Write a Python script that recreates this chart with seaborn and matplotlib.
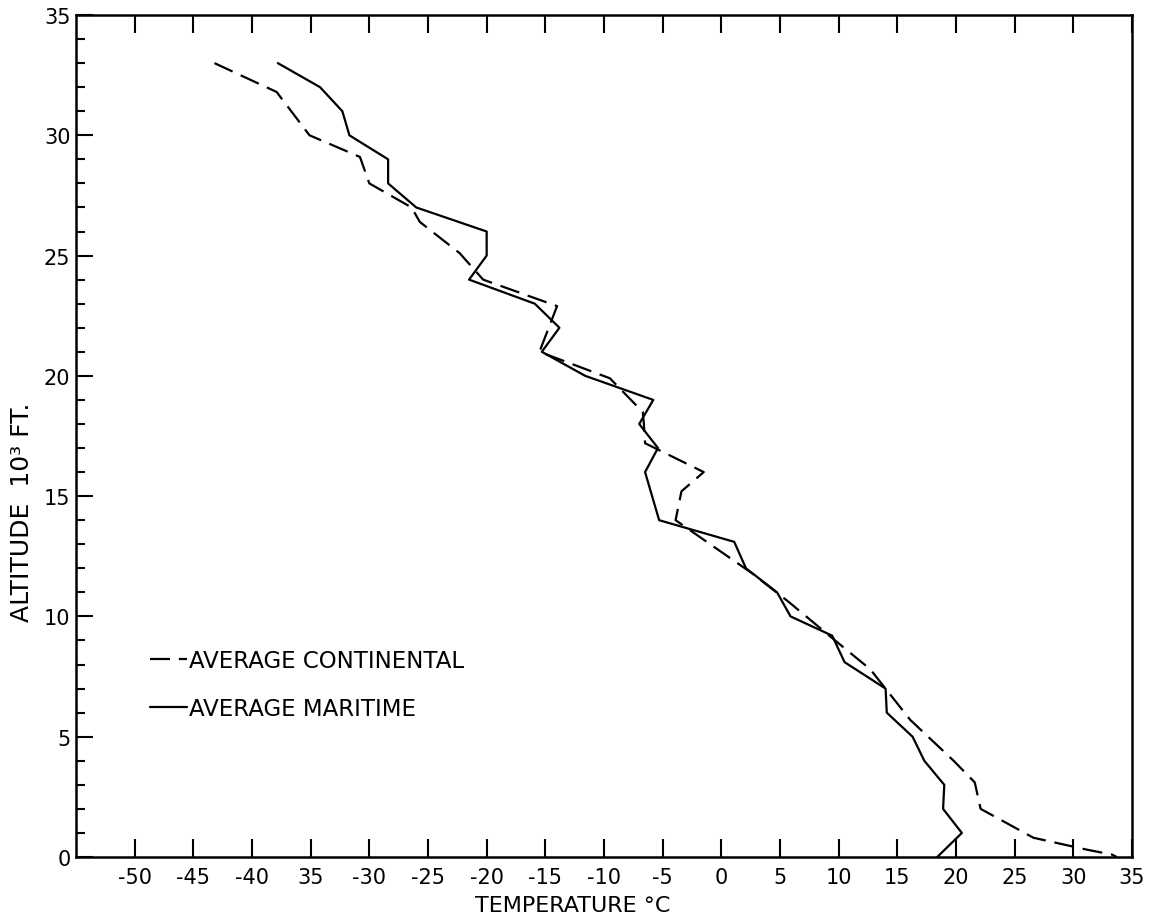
import matplotlib
matplotlib.use("Agg")
import matplotlib.pyplot as plt
import numpy as np
import pandas as pd
import seaborn as sns

# Average continental profile: temperature (deg C) vs altitude (thousand ft)
cont_temp = [-43.2, -37.9, -35.1, -30.8, -30.0, -26.4, -25.7, -22.3, -20.3, -14.0,
             -15.5, -9.5, -6.7, -6.6, -6.5, -1.5, -3.4, -3.9, 2.6, 5.75,
             9.45, 12.7, 16.1, 19.8, 21.6, 22.1, 26.6, 31.2, 33.3, 33.7]
cont_alt = [33.0, 31.8, 30.0, 29.1, 28.0, 27.0, 26.4, 25.1, 24.0, 22.9,
            21.0, 19.9, 18.5, 18.0, 17.2, 16.0, 15.2, 14.0, 11.8, 10.6,
            9.1, 7.8, 5.7, 4.0, 3.1, 2.0, 0.8, 0.3, 0.1, 0.0]

# Average maritime profile
mar_temp = [-37.8, -34.2, -32.3, -31.7, -28.4, -28.4, -26.0, -20.0, -20.0, -21.5,
            -15.9, -13.8, -15.3, -11.6, -5.8, -7.0, -5.4, -6.5, -5.3, 1.1,
            2.1, 4.75, 5.9, 9.45, 10.5, 14.0, 14.1, 16.3, 17.3, 19.0,
            18.9, 20.5, 18.4]
mar_alt = [33.0, 32.0, 31.0, 30.0, 29.0, 28.0, 27.0, 26.0, 25.0, 24.0,
           23.0, 22.0, 21.0, 20.0, 19.0, 18.0, 17.0, 16.0, 14.0, 13.1,
           12.0, 11.0, 10.0, 9.2, 8.1, 7.0, 6.0, 5.0, 4.0, 3.0,
           2.0, 1.0, 0.0]

profile_names = ["AVERAGE CONTINENTAL", "AVERAGE MARITIME"]

x_ticks = [-50, -45, -40, -35, -30, -25, -20, -15, -10, -5, 0, 5, 10, 15, 20, 25, 30, 35]
x_tick_labels = ["-50", "-45", "-40", "35", "-30", "-25", "-20", "-15", "-10", "-5",
                 "0", "5", "10", "15", "20", "25", "30", "35"]
y_ticks = [0, 5, 10, 15, 20, 25, 30, 35]
y_tick_labels = ["0", "5", "10", "15", "20", "25", "30", "35"]

df = pd.concat([
    pd.DataFrame({"temp": cont_temp, "alt": cont_alt, "profile": profile_names[0]}),
    pd.DataFrame({"temp": mar_temp, "alt": mar_alt, "profile": profile_names[1]}),
], ignore_index=True)

sns.set_style("ticks")
plt.rcParams["font.family"] = ["DejaVu Sans"]
plt.rcParams["text.color"] = "black"
plt.rcParams["axes.labelcolor"] = "black"
plt.rcParams["xtick.color"] = "black"
plt.rcParams["ytick.color"] = "black"

fig = plt.figure(figsize=(11.64, 9.2), dpi=100)
ax = fig.add_axes([76 / 1164, 62 / 920, (1132 - 76) / 1164, (904 - 62) / 920])

sns.lineplot(
    data=df, x="temp", y="alt", style="profile",
    style_order=profile_names,
    dashes={profile_names[0]: (9, 4), profile_names[1]: ""},
    color="black", linewidth=1.6, sort=False, estimator=None,
    legend=False, ax=ax,
)

ax.set_xlim(-55, 35)
ax.set_ylim(0, 35)

ax.set_xticks(x_ticks)
ax.set_xticklabels(x_tick_labels, fontsize=15, color="black")
ax.set_yticks(y_ticks)
ax.set_yticklabels(y_tick_labels, fontsize=15, color="black")
ax.set_yticks(np.arange(0, 36, 1), minor=True)

ax.tick_params(axis="x", which="major", direction="in", length=13, width=1.5,
               top=True, bottom=True, pad=7, color="black")
ax.tick_params(axis="y", which="major", direction="in", length=12, width=1.5,
               left=True, right=False, pad=4, color="black")
ax.tick_params(axis="y", which="minor", direction="in", length=6.5, width=1.5,
               left=True, right=False, color="black")

for side in ["left", "right", "top", "bottom"]:
    ax.spines[side].set_visible(True)
    ax.spines[side].set_linewidth(1.8)
    ax.spines[side].set_color("black")

ax.set_xlabel("TEMPERATURE °C", fontsize=16, color="black")
ax.xaxis.set_label_coords(0.47, -0.045)
ax.set_ylabel("ALTITUDE  10³ FT.", fontsize=18, color="black")
ax.yaxis.set_label_coords(-0.040, 0.411)

handles = ax.get_lines()[:2]
leg = ax.legend(handles, profile_names, loc="upper left", frameon=False,
                bbox_to_anchor=(150 / 1164, 1 - 650 / 920), bbox_transform=fig.transFigure,
                fontsize=16.5, handlelength=1.6, handletextpad=0.1, labelspacing=1.1,
                borderpad=0, borderaxespad=0)
for t in leg.get_texts():
    t.set_color("black")

fig.savefig("out.png", dpi=100, facecolor="white")
